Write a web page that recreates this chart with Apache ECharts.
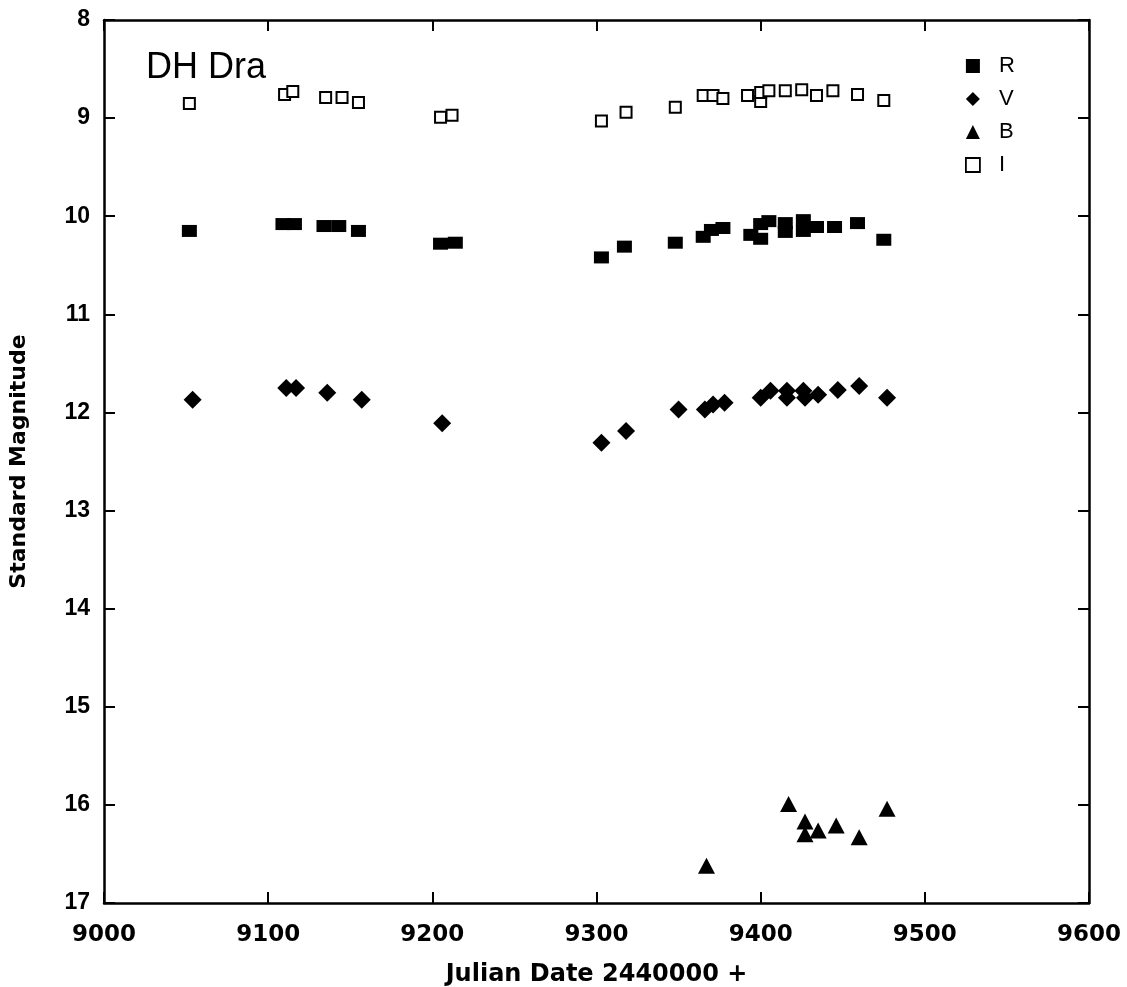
<!DOCTYPE html>
<html>
<head>
<meta charset="utf-8">
<script src="https://cdn.jsdelivr.net/npm/echarts@6/dist/echarts.min.js"></script>
<style>
html,body{margin:0;padding:0;background:#fff;}
#chart{width:1127px;height:987px;}
</style>
</head>
<body>
<div id="chart"></div>
<script>
// ---- Data ----
var xTicks = [9000, 9100, 9200, 9300, 9400, 9500, 9600];
var yTicks = [8, 9, 10, 11, 12, 13, 14, 15, 16, 17];

var rDates = [9052, 9109, 9116, 9134, 9143, 9155, 9205, 9214, 9303, 9317, 9348, 9365, 9370, 9377, 9394, 9400, 9400, 9405, 9415, 9415, 9426, 9426, 9434, 9445, 9459, 9475];
var rMags  = [10.15, 10.08, 10.08, 10.10, 10.10, 10.15, 10.28, 10.27, 10.42, 10.31, 10.27, 10.21, 10.14, 10.12, 10.19, 10.23, 10.08, 10.05, 10.07, 10.16, 10.04, 10.15, 10.11, 10.11, 10.07, 10.24];

var vDates = [9054, 9111, 9117, 9136, 9157, 9206, 9303, 9318, 9350, 9366, 9371, 9378, 9400, 9406, 9416, 9416, 9426, 9427, 9435, 9447, 9460, 9477];
var vMags  = [11.87, 11.75, 11.75, 11.80, 11.87, 12.11, 12.31, 12.19, 11.97, 11.97, 11.92, 11.90, 11.85, 11.78, 11.78, 11.85, 11.78, 11.85, 11.82, 11.77, 11.73, 11.85];

var bDates = [9367, 9417, 9427, 9427, 9435, 9446, 9460, 9477];
var bMags  = [16.62, 15.99, 16.17, 16.30, 16.26, 16.21, 16.33, 16.04];

var iDates = [9052, 9110, 9115, 9135, 9145, 9155, 9205, 9212, 9303, 9318, 9348, 9365, 9371, 9377, 9392, 9400, 9400, 9405, 9415, 9425, 9434, 9444, 9459, 9475];
var iMags  = [8.85, 8.76, 8.73, 8.79, 8.79, 8.84, 8.99, 8.97, 9.03, 8.94, 8.89, 8.77, 8.77, 8.80, 8.77, 8.83, 8.74, 8.72, 8.72, 8.71, 8.77, 8.72, 8.76, 8.82];

var seriesNames = ['R', 'V', 'B', 'I'];
var title = 'DH Dra';

function zip(a, b) { return a.map(function (v, i) { return [v, b[i]]; }); }

var chart = echarts.init(document.getElementById('chart'));

var axisLine = { show: true, lineStyle: { color: '#000', width: 2.5 } };
var tick = { show: true, inside: true, length: 11, lineStyle: { color: '#000', width: 2 } };

var option = {
  backgroundColor: '#fff',
  animation: false,
  grid: { left: 104, right: 38, top: 20, bottom: 84, containLabel: false, outerBoundsMode: 'none' },
  graphic: [{
    type: 'text', left: 146, top: 50,
    style: { text: title, font: '36px "Liberation Sans", Arial, sans-serif', fill: '#000' }
  }],
  legend: {
    orient: 'vertical',
    left: 960, top: 50,
    itemWidth: 14, itemHeight: 14,
    itemGap: 11,
    textStyle: { fontFamily: '"Liberation Sans", Arial, sans-serif', fontSize: 22, color: '#000', padding: [0, 0, 0, 14] },
    data: [
      { name: seriesNames[0], icon: 'rect', itemStyle: { color: '#000' } },
      { name: seriesNames[1], icon: 'diamond', itemStyle: { color: '#000' } },
      { name: seriesNames[2], icon: 'triangle', itemStyle: { color: '#000' } },
      { name: seriesNames[3], icon: 'rect', itemStyle: { color: '#fff', borderColor: '#000', borderWidth: 1.8 } }
    ]
  },
  xAxis: [{
    type: 'value', min: xTicks[0], max: xTicks[xTicks.length - 1], interval: 100,
    position: 'bottom',
    name: 'Julian Date 2440000 +', nameLocation: 'middle', nameGap: 60,
    nameTextStyle: { fontFamily: '"DejaVu Sans", sans-serif', fontWeight: 'bold', fontSize: 24, color: '#000' },
    axisLine: axisLine, axisTick: tick,
    axisLabel: { margin: 21, formatter: function (v) { return String(v); },
      fontFamily: '"DejaVu Sans", sans-serif', fontWeight: 'bold', fontSize: 23, color: '#000' },
    splitLine: { show: false }
  }, {
    type: 'value', min: xTicks[0], max: xTicks[xTicks.length - 1], interval: 100,
    position: 'top',
    axisLine: axisLine, axisTick: tick, axisLabel: { show: false }, splitLine: { show: false }
  }],
  yAxis: [{
    type: 'value', inverse: true, min: yTicks[0], max: yTicks[yTicks.length - 1], interval: 1,
    position: 'left',
    name: 'Standard Magnitude', nameLocation: 'middle', nameGap: 74,
    nameTextStyle: { fontFamily: '"DejaVu Sans", sans-serif', fontWeight: 'bold', fontSize: 22, color: '#000' },
    axisLine: axisLine, axisTick: tick,
    axisLabel: { margin: 14, formatter: function (v) { return String(v); },
      fontFamily: '"Liberation Sans", Arial, sans-serif', fontWeight: 'bold', fontSize: 23, color: '#000' },
    splitLine: { show: false }
  }, {
    type: 'value', inverse: true, min: yTicks[0], max: yTicks[yTicks.length - 1], interval: 1,
    position: 'right',
    axisLine: axisLine, axisTick: tick, axisLabel: { show: false }, splitLine: { show: false }
  }],
  series: [
    { name: seriesNames[0], type: 'scatter', symbol: 'rect', symbolSize: [15, 12],
      itemStyle: { color: '#000', opacity: 1 }, data: zip(rDates, rMags) },
    { name: seriesNames[1], type: 'scatter', symbol: 'diamond', symbolSize: 18,
      itemStyle: { color: '#000', opacity: 1 }, data: zip(vDates, vMags) },
    { name: seriesNames[2], type: 'scatter', symbol: 'triangle', symbolSize: [17, 16],
      itemStyle: { color: '#000', opacity: 1 }, data: zip(bDates, bMags) },
    { name: seriesNames[3], type: 'scatter', symbol: 'rect', symbolSize: 11,
      itemStyle: { color: '#fff', borderColor: '#000', borderWidth: 2, opacity: 1 }, data: zip(iDates, iMags) }
  ]
};
chart.setOption(option);
</script>
</body>
</html>
